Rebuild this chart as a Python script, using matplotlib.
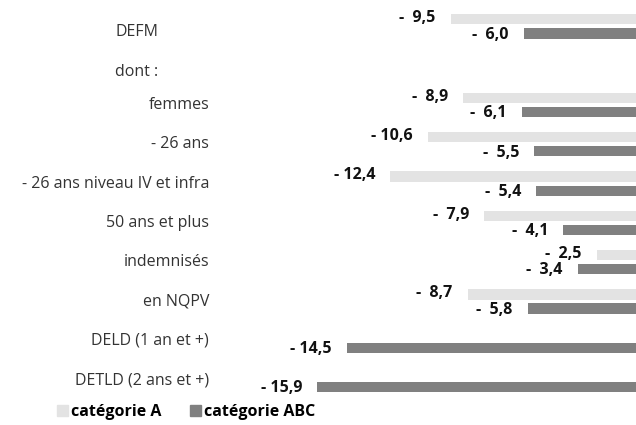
import matplotlib.pyplot as plt
from matplotlib.patches import Patch

categories = [
    "DEFM",
    "dont :",
    "femmes",
    "- 26 ans",
    "- 26 ans niveau IV et infra",
    "50 ans et plus",
    "indemnisés",
    "en NQPV",
    "DELD (1 an et +)",
    "DETLD (2 ans et +)",
]
cat_a = [-9.5, None, -8.9, -10.6, -12.4, -7.9, -2.5, -8.7, None, None]
cat_abc = [-6.0, None, -6.1, -5.5, -5.4, -4.1, -3.4, -5.8, -14.5, -15.9]

color_a = "#e3e3e3"
color_abc = "#808080"

plt.rcParams["font.family"] = ["Open Sans", "DejaVu Sans"]

fig = plt.figure(figsize=(6.36, 4.25), dpi=100)
ax = fig.add_axes([240 / 636, 1 - 399.75 / 425, 409 / 636, 393 / 425])
ax.set_xlim(-409 / 20.86, 0)
ax.set_ylim(len(categories) - 0.5, -0.5)
ax.axis("off")


def fmt(v):
    s = f"{abs(v):.1f}".replace(".", ",")
    return ("-  " if abs(v) < 10 else "- ") + s


off = 0.18
h = 0.26
for i, (a, b) in enumerate(zip(cat_a, cat_abc)):
    if a is not None:
        ax.barh(i - off, a, height=h, color=color_a)
        ax.annotate(fmt(a), (a, i - off - 0.03), xytext=(-11, 0), textcoords="offset points",
                    ha="right", va="center", fontsize=11.5, fontweight="bold", color="#111111")
    if b is not None:
        ax.barh(i + off, b, height=h, color=color_abc)
        ax.annotate(fmt(b), (b, i + off + 0.03), xytext=(-11, 0), textcoords="offset points",
                    ha="right", va="center", fontsize=11.5, fontweight="bold", color="#111111")

# category labels: the first two are centred and sit a bit lower, the rest are right-aligned
for i, name in enumerate(categories):
    if i < 2:
        ax.annotate(name, (0, i + 0.15), xycoords=("axes fraction", "data"), xytext=(-74.5, 0),
                    textcoords="offset points", ha="center", va="center", fontsize=11.5,
                    color="#333333")
    else:
        ax.annotate(name, (0, i), xycoords=("axes fraction", "data"), xytext=(-22.3, 0),
                    textcoords="offset points", ha="right", va="center", fontsize=11.5,
                    color="#333333")

handles = [Patch(color=color_a, label="catégorie A"), Patch(color=color_abc, label="catégorie ABC")]
fig.legend(handles=handles, loc="center left", bbox_to_anchor=(57 / 636, 1 - 412 / 425), ncol=2,
           frameon=False, handlelength=0.7, handleheight=0.7, handletextpad=0.2,
           columnspacing=1.75, prop={"size": 11.5, "weight": "bold"}, borderaxespad=0, borderpad=0)

fig.savefig("out.png", dpi=100)
